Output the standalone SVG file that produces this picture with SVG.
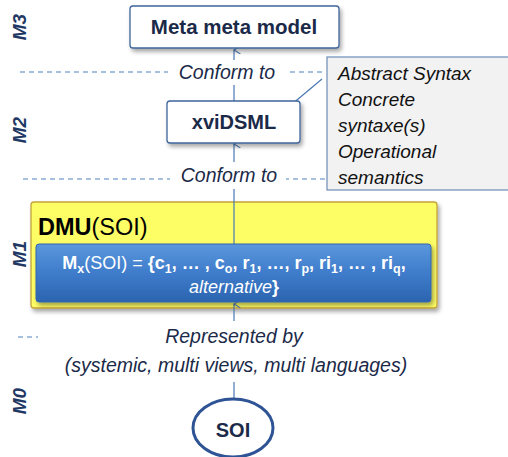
<svg xmlns="http://www.w3.org/2000/svg" width="508" height="457" viewBox="0 0 508 457">
<style>
text{font-family:"Liberation Sans",Arial,sans-serif;fill:#1b2a48}
.lvl{font-size:19px;font-weight:bold;font-style:italic;fill:#1f3864}
.box{fill:#fff;stroke:#3f659b;stroke-width:1.3}
.bold{font-weight:bold;text-anchor:middle}
.lab{font-size:19.5px;font-style:italic;text-anchor:middle}
.note{font-size:19px;font-style:italic;fill:#111}
.conn{stroke:#4a78b5;stroke-width:1.2;fill:none}
.dash{stroke:#4f81bd;stroke-width:1.2;stroke-dasharray:5 4;fill:none}
.bt{font-size:18px;fill:#fff;text-anchor:middle}
</style>
<defs>
<filter id="sh" x="-10%" y="-20%" width="130%" height="150%">
<feDropShadow dx="2" dy="3" stdDeviation="2" flood-color="#000" flood-opacity="0.35"/>
</filter>
<linearGradient id="bg" x1="0" y1="0" x2="0" y2="1">
<stop offset="0" stop-color="#5a97dc"/>
<stop offset="0.5" stop-color="#3f7ccb"/>
<stop offset="1" stop-color="#2b64b0"/>
</linearGradient>
<marker id="arr" viewBox="0 0 10 10" refX="5" refY="1" markerWidth="8" markerHeight="8" markerUnits="userSpaceOnUse" orient="auto-start-reverse">
<path d="M0,9 L5,1 L10,9" fill="none" stroke="#4a78b5" stroke-width="1.3"/>
</marker>
</defs>

<!-- level labels -->
<g id="levels">
<text class="lvl" text-anchor="middle" transform="translate(26,27) rotate(-90)">M3</text>
<text class="lvl" text-anchor="middle" transform="translate(26,130) rotate(-90)">M2</text>
<text class="lvl" text-anchor="middle" transform="translate(26,254) rotate(-90)">M1</text>
<text class="lvl" text-anchor="middle" transform="translate(26,401) rotate(-90)">M0</text>
</g>

<!-- dashed level separators -->
<g id="separators">
<line class="dash" x1="20" y1="72" x2="326" y2="72"/>
<line class="dash" x1="23" y1="179" x2="326" y2="179"/>
<line class="dash" x1="18" y1="337" x2="38" y2="337"/>
</g>

<!-- DMU container -->
<g id="dmu">
<rect x="31" y="202" width="406" height="106" rx="3" fill="#fdfd66" stroke="#c4a43a" stroke-width="1.3" filter="url(#sh)"/>
<text x="38" y="235" font-size="23.5" fill="#000"><tspan font-weight="bold" fill="#000">DMU</tspan><tspan fill="#000">(SOI)</tspan></text>
</g>

<!-- connectors -->
<g id="connectors">
<line class="conn" x1="234" y1="101" x2="234" y2="50" marker-end="url(#arr)"/>
<line class="conn" x1="234" y1="244" x2="234" y2="144" marker-end="url(#arr)"/>
<line class="conn" x1="234" y1="399" x2="234" y2="304" marker-end="url(#arr)"/>
<line class="conn" x1="322" y1="79" x2="285" y2="110"/>
</g>

<g id="mx">
<rect x="36" y="244" width="395" height="58" rx="3" fill="url(#bg)" stroke="#3566ab" stroke-width="1" filter="url(#sh)"/>
<text class="bt" x="234" y="269"><tspan font-weight="bold">M</tspan><tspan font-weight="bold" font-size="12.5" dy="4">x</tspan><tspan dy="-4">(SOI) = </tspan><tspan font-weight="bold">{c</tspan><tspan font-weight="bold" font-size="12.5" dy="4">1</tspan><tspan font-weight="bold" dy="-4">, … , c</tspan><tspan font-weight="bold" font-size="12.5" dy="4">o</tspan><tspan font-weight="bold" dy="-4">, r</tspan><tspan font-weight="bold" font-size="12.5" dy="4">1</tspan><tspan font-weight="bold" dy="-4">, …, r</tspan><tspan font-weight="bold" font-size="12.5" dy="4">p</tspan><tspan font-weight="bold" dy="-4">, ri</tspan><tspan font-weight="bold" font-size="12.5" dy="4">1</tspan><tspan font-weight="bold" dy="-4">, … , ri</tspan><tspan font-weight="bold" font-size="12.5" dy="4">q</tspan><tspan font-weight="bold" dy="-4">,</tspan></text>
<text class="bt" x="234" y="293"><tspan font-style="italic">alternative</tspan><tspan font-weight="bold">}</tspan></text>
</g>

<!-- connector labels -->
<g id="labels">
<rect x="168" y="60" width="118" height="25" fill="#fff"/>
<text class="lab" x="227" y="79">Conform to</text>
<rect x="170" y="162" width="116" height="27" fill="#fff"/>
<text class="lab" x="229" y="182">Conform to</text>
<rect x="52" y="321" width="368" height="61" fill="#fff"/>
<text class="lab" x="234" y="343">Represented by</text>
<text class="lab" x="236" y="372" font-size="20">(systemic, multi views, multi languages)</text>
</g>

<g id="metameta">
<rect class="box" x="130" y="6" width="209" height="42" rx="3" filter="url(#sh)"/>
<text class="bold" x="234" y="34" font-size="20.5">Meta meta model</text>
</g>

<g id="xvidsml">
<rect class="box" x="167" y="101" width="133" height="42" rx="3" filter="url(#sh)"/>
<text class="bold" x="234" y="129" font-size="20">xviDSML</text>
</g>

<g id="note">
<rect x="327" y="57" width="190" height="133" fill="#f2f2f2" stroke="#6d8cb8" stroke-width="1.2"/>
<text class="note" x="338" y="80">Abstract Syntax</text>
<text class="note" x="338" y="106">Concrete</text>
<text class="note" x="338" y="132">syntaxe(s)</text>
<text class="note" x="338" y="158">Operational</text>
<text class="note" x="338" y="184">semantics</text>
</g>

<g id="soi">
<ellipse cx="233" cy="428" rx="40" ry="29" fill="#fff" stroke="#2f5496" stroke-width="3"/>
<text class="bold" x="233" y="437" font-size="20">SOI</text>
</g>
</svg>
